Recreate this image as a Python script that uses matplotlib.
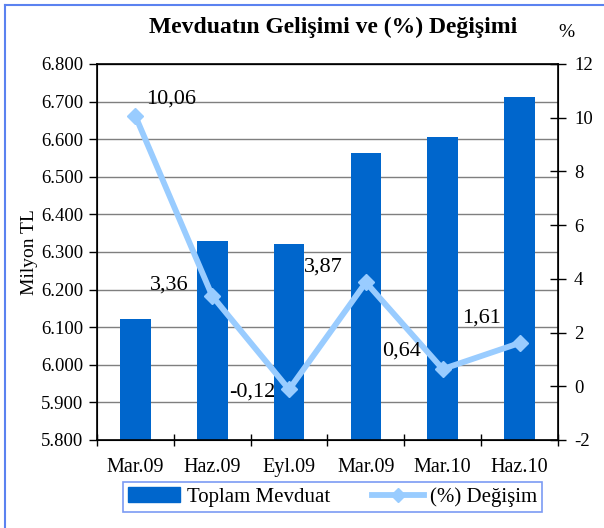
import matplotlib.pyplot as plt
from matplotlib.lines import Line2D
from matplotlib.ticker import FuncFormatter, FixedLocator

plt.rcParams['font.family'] = ['Liberation Serif', 'DejaVu Serif']
plt.rcParams['axes.unicode_minus'] = False

# data
periods = ['Mar.09', 'Haz.09', 'Eyl.09', 'Mar.09', 'Mar.10', 'Haz.10']
toplam_mevduat = [6123, 6328, 6320, 6563, 6605, 6712]   # milyon TL
degisim = [10.06, 3.36, -0.12, 3.87, 0.64, 1.61]        # %
degisim_labels = ['10,06', '3,36', '-0,12', '3,87', '0,64', '1,61']

# label offsets in pixels (style, not data)
label_offsets = [(36, 17), (-43, 11), (-37, -3), (-43, 15), (-41, 18), (-38, 25)]

BAR_COLOR = '#0066CC'
LINE_COLOR = '#99CCFF'
FRAME_BLUE = '#5B82F0'

fig = plt.figure(figsize=(6.04, 5.28), dpi=100)
ax = fig.add_axes([0.1606, 0.1667, 0.7632, 0.7121])
x = list(range(len(periods)))

ax.bar(x, toplam_mevduat, width=0.4, color=BAR_COLOR, zorder=2, label='Toplam Mevduat')
ax.set_ylim(5800, 6800)
ax.set_yticks(range(5800, 6801, 100))
ax.yaxis.set_major_formatter(FuncFormatter(lambda v, p: f'{v / 1000:.3f}'))
ax.grid(axis='y', color='#7f7f7f', linewidth=1.0, zorder=0)
ax.set_axisbelow(True)
ax.set_xlim(-0.5, len(periods) - 0.5)
ax.set_xticks(x)
ax.set_xticklabels(periods)
ax.xaxis.set_minor_locator(FixedLocator([i - 0.5 for i in range(len(periods) + 1)]))
ax.tick_params(axis='x', which='major', length=0, pad=13, labelsize=14.5)
ax.tick_params(axis='x', which='minor', length=9, direction='inout', width=1)
ax.tick_params(axis='y', length=6, direction='out', width=1, labelsize=13.5, pad=4)
ax.set_ylabel('Milyon TL', fontsize=14, labelpad=2)
for s in ax.spines.values():
    s.set_linewidth(1.2)

ax2 = ax.twinx()
ax2.plot(x, degisim, color=LINE_COLOR, linewidth=4.2, marker='D', markersize=8.5,
         markerfacecolor=LINE_COLOR, markeredgecolor=LINE_COLOR, zorder=3)
ax2.set_ylim(-2, 12)
ax2.set_yticks(range(-2, 13, 2))
ax2.tick_params(axis='y', length=11, direction='inout', width=1, labelsize=13.5, pad=6)
for xi, yi, lab, off in zip(x, degisim, degisim_labels, label_offsets):
    ax2.annotate(lab, (xi, yi), xytext=off, textcoords='offset pixels',
                 ha='center', va='center', fontsize=16)

fig.text(0.551, 0.948, 'Mevduatın Gelişimi ve (%) Değişimi', ha='center', va='center',
         fontsize=17, fontweight='bold')
fig.text(0.937, 0.938, '%', ha='center', va='center', fontsize=14)

handles = [plt.Rectangle((0, 0), 1, 1, color=BAR_COLOR),
           Line2D([], [], color=LINE_COLOR, linewidth=4.2, marker='D', markersize=7)]
leg = fig.legend(handles, ['Toplam Mevduat', '(%) Değişim'], loc='center',
                 bbox_to_anchor=(0.5507, 0.0587), ncol=2, fontsize=15, frameon=True,
                 fancybox=False, edgecolor=FRAME_BLUE, handlelength=2.5,
                 columnspacing=2.0, borderpad=0.25, borderaxespad=0, handletextpad=0.3)
leg.get_frame().set_linewidth(1.2)

# outer chart frame (only top/left visible in the reference crop)
fig.add_artist(Line2D([0.008, 0.008], [0.0, 0.991], transform=fig.transFigure,
                      color=FRAME_BLUE, linewidth=1.5))
fig.add_artist(Line2D([0.008, 1.0], [0.991, 0.991], transform=fig.transFigure,
                      color=FRAME_BLUE, linewidth=1.5))

fig.savefig('out.png', dpi=100)
